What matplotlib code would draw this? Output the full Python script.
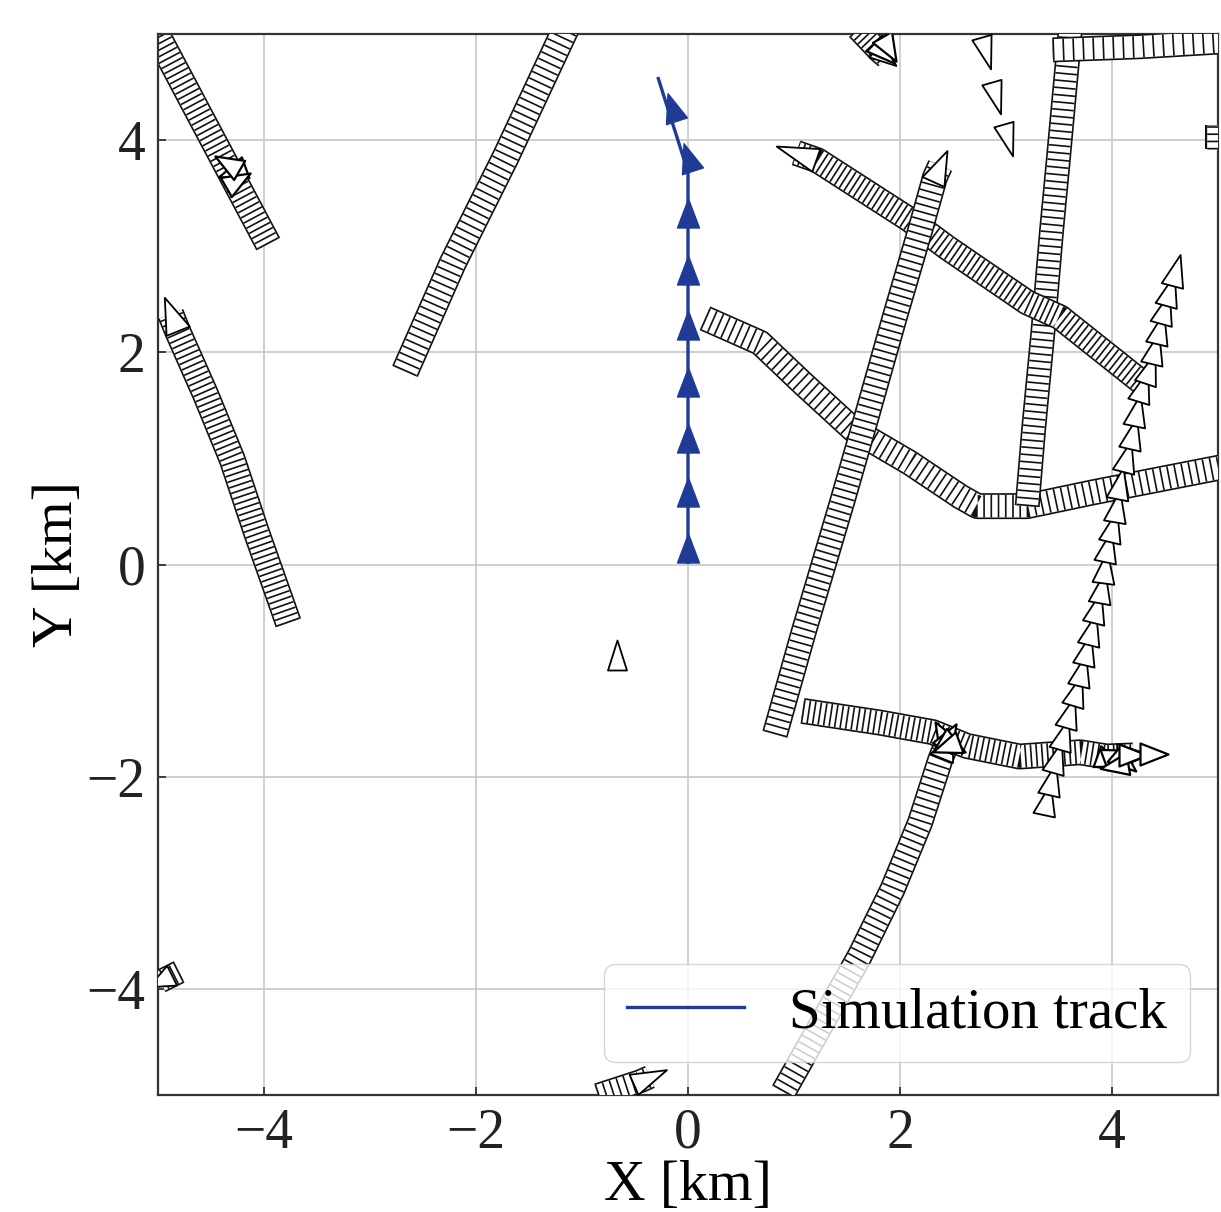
import numpy as np
import matplotlib
matplotlib.use('Agg')
import matplotlib.pyplot as plt
from matplotlib.markers import MarkerStyle
from matplotlib.path import Path
from matplotlib.transforms import Affine2D

plt.rcParams['font.family'] = ['Liberation Serif', 'DejaVu Serif']
plt.rcParams['lines.scale_dashes'] = False

# ---------------- data (km) ----------------
# simulation (own ship) track
sim_x = [0.0, 0.0, -0.28]
sim_y = [0.02, 3.70, 4.58]
sim_mark_x = [0.0, 0.0, 0.0, 0.0, 0.0, 0.0, 0.0, 0.0, -0.15]
sim_mark_y = [0.16, 0.68, 1.19, 1.72, 2.26, 2.78, 3.31, 3.84, 4.31]
sim_mark_heading = [90, 90, 90, 90, 90, 90, 90, 108, 108]

# other vessels: dense AIS tracks (waypoints in travel order)
trk_A_x = [-3.96, -4.30, -4.63, -4.98, -5.06]
trk_A_y = [3.02, 3.66, 4.28, 4.94, 5.10]
trk_B_x = [-3.77, -4.07, -4.30, -4.55, -4.82, -4.88]
trk_B_y = [-0.55, 0.30, 0.99, 1.60, 2.21, 2.36]
trk_C_x = [-2.67, -2.22, -1.72, -1.13]
trk_C_y = [1.82, 2.84, 3.84, 5.10]
trk_D_x = [4.29, 3.51, 3.20, 2.44, 2.09, 1.22, 1.02]
trk_D_y = [1.71, 2.33, 2.47, 2.99, 3.25, 3.81, 3.88]
trk_E_x = [0.82, 1.09, 1.46, 1.67, 1.95, 2.19, 2.33, 2.38]
trk_E_y = [-1.60, -0.64, 0.61, 1.34, 2.33, 3.15, 3.65, 3.76]
trk_F_x = [0.16, 0.68, 1.08, 1.56, 2.09, 2.57, 2.73, 3.20, 3.82, 5.10]
trk_F_y = [2.32, 2.09, 1.71, 1.27, 0.96, 0.64, 0.55, 0.55, 0.68, 0.93]
trk_G_x = [3.20, 3.26, 3.35, 3.43, 3.49, 3.60, 3.61]
trk_G_y = [0.55, 1.27, 2.21, 3.15, 3.78, 4.97, 5.10]
trk_H_x = [3.44, 4.26, 5.10]
trk_H_y = [4.85, 4.88, 4.93]
trk_P_x = [4.97, 4.97]
trk_P_y = [3.92, 4.14]
trk_J_x = [1.08, 1.81, 2.31, 2.63, 3.13, 3.70, 3.95, 4.20]
trk_J_y = [-1.38, -1.49, -1.58, -1.71, -1.81, -1.77, -1.81, -1.80]
trk_K_x = [0.90, 1.26, 1.62, 1.93, 2.19, 2.38, 2.44]
trk_K_y = [-4.97, -4.33, -3.69, -3.06, -2.43, -1.84, -1.69]
trk_L_x = [-0.85, -0.45, -0.36]
trk_L_y = [-5.00, -4.87, -4.83]
trk_M_x = [-4.80, -4.92, -4.98]
trk_M_y = [-3.84, -3.90, -3.93]
trk_N_x = [1.60, 1.80, 1.87]
trk_N_y = [5.05, 4.84, 4.78]

# other vessels: sparse triangle markers
trk_I_x = [3.39, 3.43, 3.48, 3.55, 3.60, 3.67, 3.72, 3.76, 3.81, 3.86, 3.91, 3.93, 3.96,
           4.01, 4.05, 4.08, 4.14, 4.20, 4.24, 4.29, 4.36, 4.41, 4.45, 4.50, 4.55, 4.60]
trk_I_y = [-2.21, -2.02, -1.81, -1.60, -1.39, -1.18, -0.99, -0.80, -0.61, -0.40, -0.21, -0.02, 0.17,
           0.36, 0.55, 0.77, 1.02, 1.24, 1.46, 1.68, 1.85, 2.04, 2.23, 2.42, 2.59, 2.78]
trk_S_x = [2.81, 2.91, 3.02]
trk_S_y = [4.82, 4.40, 4.00]
trk_S_heading = [-74, -74, -74]
single_x = [-0.67]
single_y = [-0.85]
single_heading = [90]

# turning knots (clusters of markers)
knot_x = [2.40, 2.46, 2.50, 2.43, 3.98, 4.05, 4.12, 4.02, 4.20, 4.40, -4.30, -4.25, -4.35, 1.85, 1.90]
knot_y = [-1.60, -1.62, -1.70, -1.72, -1.85, -1.80, -1.86, -1.90, -1.80, -1.79, 3.70, 3.62, 3.78, 4.82, 4.86]
knot_heading = [120, 60, -30, 200, -20, 20, -40, 190, 0, 0, 200, 30, 150, -45, -60]

# ---------------- style ----------------
PX = 72.0 / 100.0  # points per pixel
NAVY = '#1f3b96'


def tri_marker(heading_deg, ratio):
    verts = [(0, 0.5), (-ratio / 2, -0.5), (ratio / 2, -0.5), (0, 0.5)]
    codes = [Path.MOVETO, Path.LINETO, Path.LINETO, Path.CLOSEPOLY]
    return MarkerStyle(Path(verts, codes),
                       transform=Affine2D().rotate_deg(heading_deg - 90))


def tri(ax, x, y, heading, L_px, B_px, z, fc='white', ec='black', mew=1.3):
    ax.plot([x], [y], ls='none', marker=tri_marker(heading, B_px / L_px),
            markersize=L_px * PX, mfc=fc, mec=ec, mew=mew, zorder=z)


def ladder(ax, xs, ys, width_px, z, head=True, head_L=34, dash=(1.2, 4.0)):
    w = width_px * PX
    ax.plot(xs, ys, color='#111111', lw=w, solid_capstyle='butt',
            solid_joinstyle='round', zorder=z)
    ax.plot(xs, ys, color='white', lw=w - 2.4, solid_capstyle='butt',
            solid_joinstyle='round', zorder=z + 0.1)
    ax.plot(xs, ys, color='#111111', lw=w - 2.4, dashes=dash,
            dash_capstyle='butt', zorder=z + 0.2)
    if head:
        hd = np.degrees(np.arctan2(ys[-1] - ys[-2], xs[-1] - xs[-2]))
        tri(ax, xs[-1], ys[-1], hd, head_L, width_px - 2, z + 0.3)


fig = plt.figure(figsize=(12.21, 12.12), dpi=100)
ax = fig.add_axes([158 / 1221, (1212 - 1095) / 1212, 1060 / 1221, 1061 / 1212])
ax.set_xlim(-5, 5)
ax.set_ylim(-5, 5)

ax.grid(True, color='#cbcbcb', lw=1.3)
ax.set_axisbelow(True)

ladder(ax, trk_A_x, trk_A_y, 27, 2, head=False, dash=(1.2, 3.0))
ladder(ax, trk_B_x, trk_B_y, 27, 3, head=True, head_L=36, dash=(1.2, 3.0))
ladder(ax, trk_C_x, trk_C_y, 28, 4, head=False)
ladder(ax, trk_F_x, trk_F_y, 26, 5, head=False)
ladder(ax, trk_G_x, trk_G_y, 25, 6, head=False)
ladder(ax, trk_H_x, trk_H_y, 25, 6.5, head=False, dash=(1.2, 6.0))
ladder(ax, trk_P_x, trk_P_y, 20, 6.5, head=False)
ladder(ax, trk_D_x, trk_D_y, 26, 7, head=True, head_L=42, dash=(1.2, 2.8))
ladder(ax, trk_E_x, trk_E_y, 26, 8, head=True, head_L=34)
ladder(ax, trk_K_x, trk_K_y, 26, 9, head=True, head_L=30)
ladder(ax, trk_J_x, trk_J_y, 26, 10, head=True, head_L=32, dash=(1.2, 2.8))
ladder(ax, trk_L_x, trk_L_y, 24, 9, head=True, head_L=36)
ladder(ax, trk_M_x, trk_M_y, 24, 9, head=True, head_L=26, dash=(1.2, 2.6))
ladder(ax, trk_N_x, trk_N_y, 24, 9, head=True, head_L=26, dash=(1.2, 2.6))

# sparse triangle vessel
for i in range(len(trk_I_x)):
    j0 = max(i - 1, 0)
    j1 = min(i + 1, len(trk_I_x) - 1)
    hd = np.degrees(np.arctan2(trk_I_y[j1] - trk_I_y[j0], trk_I_x[j1] - trk_I_x[j0]))
    tri(ax, trk_I_x[i], trk_I_y[i], hd, 32, 22, 11 + i * 0.01)

for x, y, h in zip(trk_S_x, trk_S_y, trk_S_heading):
    tri(ax, x, y, h, 33, 20, 11)
for x, y, h in zip(single_x, single_y, single_heading):
    tri(ax, x, y, h, 30, 19, 11)
for x, y, h in zip(knot_x, knot_y, knot_heading):
    tri(ax, x, y, h, 28, 22, 12, mew=1.6)

# simulation track
line, = ax.plot(sim_x, sim_y, color=NAVY, lw=2.4, zorder=20, label='Simulation track')
for x, y, h in zip(sim_mark_x, sim_mark_y, sim_mark_heading):
    tri(ax, x, y, h, 29, 22, 21, fc=NAVY, ec=NAVY, mew=1.0)

ax.set_xticks([-4, -2, 0, 2, 4])
ax.set_yticks([-4, -2, 0, 2, 4])
ax.tick_params(direction='in', length=6, width=1.2, labelsize=40, pad=9, colors='#222222')
for sp in ax.spines.values():
    sp.set_linewidth(1.6)
    sp.set_color('#333333')

ax.set_xlabel('X [km]', fontsize=41.5, labelpad=0)
ax.set_ylabel('Y [km]', fontsize=41.5, labelpad=2)

leg = ax.legend(handles=[line], loc='lower right', bbox_to_anchor=(0.9736, 0.0311),
                borderaxespad=0, fontsize=41, framealpha=0.8, edgecolor='#cccccc',
                fancybox=True, handlelength=2.05)
leg.set_zorder(30)

fig.savefig('out.png', dpi=100)
